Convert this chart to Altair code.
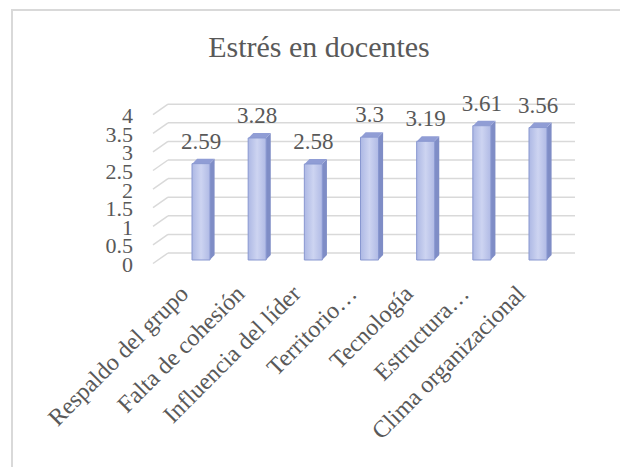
import altair as alt
import pandas as pd

# Chart data
categories = [
    "Respaldo del grupo",
    "Falta de cohesión",
    "Influencia del líder",
    "Territorio…",
    "Tecnología",
    "Estructura…",
    "Clima organizacional",
]
values = [2.59, 3.28, 2.58, 3.3, 3.19, 3.61, 3.56]
value_labels = ["2.59", "3.28", "2.58", "3.3", "3.19", "3.61", "3.56"]
tick_values = [0, 0.5, 1, 1.5, 2, 2.5, 3, 3.5, 4]
tick_labels = ["0", "0.5", "1", "1.5", "2", "2.5", "3", "3.5", "4"]
title_text = "Estrés en docentes"

# Layout of the pseudo-3D plot (pixels)
X_RANGE = [196, 543]          # centres of first and last column
Y_RANGE = [260, 111.2]        # value 0 and value 4 on the bar plane
STEP = (X_RANGE[1] - X_RANGE[0]) / (len(categories) - 1)
YPX = (Y_RANGE[0] - Y_RANGE[1]) / 4
HALF_W = 9 / STEP             # half of the front face width, in index units
DEPTH_X = 5 / STEP            # depth of the side face, in index units
DEPTH_Y = 5 / YPX             # depth of the top face, in value units

FONT = "Liberation Serif"
TEXT_COLOR = "#595959"
GRID_COLOR = "#d9d9d9"

xs = alt.Scale(domain=[0, len(categories) - 1], range=X_RANGE)
ys = alt.Scale(domain=[0, 4], range=Y_RANGE)

bars = pd.DataFrame({
    "idx": list(range(len(categories))),
    "cat": categories,
    "value": values,
    "label": value_labels,
})

# Side and top faces of each column as parallelograms
side_rows = []
top_rows = []
for i, v in zip(bars["idx"], bars["value"]):
    xl, xr = i - HALF_W, i + HALF_W
    side_rows += [
        {"bar": i, "x": xr, "y": v, "y2": 0},
        {"bar": i, "x": xr + DEPTH_X, "y": v + DEPTH_Y, "y2": DEPTH_Y},
    ]
    top_rows += [
        {"bar": i, "x": xl, "y": v, "y2": v},
        {"bar": i, "x": xl + DEPTH_X, "y": v + DEPTH_Y, "y2": v},
        {"bar": i, "x": xr, "y": v + DEPTH_Y, "y2": v},
        {"bar": i, "x": xr + DEPTH_X, "y": v + DEPTH_Y, "y2": v + DEPTH_Y},
    ]
side = pd.DataFrame(side_rows)
top = pd.DataFrame(top_rows)
ticks = pd.DataFrame({"v": tick_values, "t": tick_labels})

border = alt.Chart(pd.DataFrame({"a": [0]})).mark_rect(
    fill=None, stroke=GRID_COLOR, strokeWidth=2
).encode(x=alt.value(12), x2=alt.value(700), y=alt.value(10), y2=alt.value(520))

back_grid = alt.Chart(ticks).mark_rule(
    color=GRID_COLOR, strokeWidth=1.5, yOffset=-7
).encode(
    y=alt.Y("v:Q", scale=ys, axis=None),
    x=alt.value(168), x2=alt.value(575),
)

floor_lines = alt.Chart(ticks).mark_rule(
    color=GRID_COLOR, strokeWidth=1.5, yOffset=3.5, y2Offset=-7
).encode(
    y=alt.Y("v:Q", scale=ys, axis=None),
    y2="v:Q",
    x=alt.value(153), x2=alt.value(168),
)

side_face = alt.Chart(side).mark_area(color="#7f8dc6", interpolate="linear").encode(
    x=alt.X("x:Q", scale=xs, axis=None),
    y=alt.Y("y:Q", scale=ys, axis=None),
    y2="y2:Q",
    detail="bar:N",
)

top_face = alt.Chart(top).mark_area(color="#909dd5", interpolate="linear").encode(
    x=alt.X("x:Q", scale=xs, axis=None),
    y=alt.Y("y:Q", scale=ys, axis=None),
    y2="y2:Q",
    detail="bar:N",
)

front_gradient = alt.LinearGradient(
    gradient="linear",
    stops=[
        alt.GradientStop(color="#adb8e4", offset=0),
        alt.GradientStop(color="#cdd4f1", offset=0.5),
        alt.GradientStop(color="#b0bae5", offset=1),
    ],
    x1=0, x2=1, y1=0, y2=0,
)

front_face = alt.Chart(bars).mark_bar(
    size=18, color=front_gradient, stroke="#8897d0", strokeWidth=1
).encode(
    x=alt.X("idx:Q", scale=xs, axis=None),
    y=alt.Y("value:Q", scale=ys, axis=None),
    y2=alt.datum(0),
)

value_text = alt.Chart(bars).mark_text(
    font=FONT, fontSize=23, color=TEXT_COLOR, baseline="middle", dy=-22
).encode(
    x=alt.X("idx:Q", scale=xs, axis=None),
    y=alt.Y("value:Q", scale=ys, axis=None),
    text="label:N",
)

tick_text = alt.Chart(ticks).mark_text(
    font=FONT, fontSize=22, color=TEXT_COLOR, align="right", baseline="middle", dy=5
).encode(
    y=alt.Y("v:Q", scale=ys, axis=None),
    x=alt.value(133),
    text="t:N",
)

cat_text = alt.Chart(bars).mark_text(
    font=FONT, fontSize=24, color=TEXT_COLOR, align="right", baseline="middle",
    angle=315, dx=-6, xOffset=-12, yOffset=-6
).encode(
    x=alt.X("idx:Q", scale=xs, axis=None),
    y=alt.value(292),
    text="cat:N",
)

title = alt.Chart(pd.DataFrame({"t": [title_text]})).mark_text(
    font=FONT, fontSize=30, color=TEXT_COLOR, align="center", baseline="middle"
).encode(x=alt.value(319), y=alt.value(48), text="t:N")

chart = alt.layer(
    border, back_grid, floor_lines, side_face, top_face, front_face,
    value_text, tick_text, cat_text, title,
).properties(
    width=620, height=467, autosize="none", padding=0, background="white"
).configure_view(stroke=None)

chart.save("out.html", embed_options={"renderer": "svg", "actions": False})
